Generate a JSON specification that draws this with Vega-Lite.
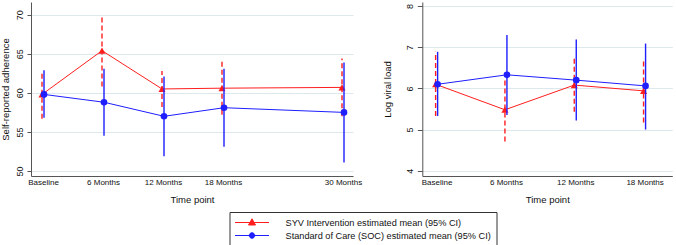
{
  "$schema": "https://vega.github.io/schema/vega-lite/v6.json",
  "background": "white",
  "padding": {"left": 0, "top": 2, "right": 0, "bottom": 2},
  "bounds": "flush",
  "spacing": 69.3,
  "config": {
    "view": {"stroke": null},
    "font": "Liberation Sans",
    "axis": {
      "domainColor": "#555555",
      "domainWidth": 1,
      "tickColor": "#555555",
      "labelColor": "#111111",
      "titleColor": "#111111",
      "labelFont": "Liberation Sans",
      "titleFont": "Liberation Sans",
      "titleFontWeight": "normal",
      "gridColor": "#dde8ec",
      "gridWidth": 1
    },
    "legend": {
      "labelFont": "Liberation Sans"
    }
  },
  "datasets": {
    "adherence": [
      {"series": "SYV Intervention estimated mean (95% CI)", "month": 0, "mean": 59.8, "lo": 56.7, "hi": 62.7},
      {"series": "SYV Intervention estimated mean (95% CI)", "month": 6, "mean": 65.4, "lo": 60.8, "hi": 70.0},
      {"series": "SYV Intervention estimated mean (95% CI)", "month": 12, "mean": 60.5, "lo": 58.2, "hi": 62.8},
      {"series": "SYV Intervention estimated mean (95% CI)", "month": 18, "mean": 60.6, "lo": 57.2, "hi": 64.1},
      {"series": "SYV Intervention estimated mean (95% CI)", "month": 30, "mean": 60.7, "lo": 57.0, "hi": 64.4},
      {"series": "Standard of Care (SOC) estimated mean (95% CI)", "month": 0, "mean": 59.8, "lo": 56.8, "hi": 62.9},
      {"series": "Standard of Care (SOC) estimated mean (95% CI)", "month": 6, "mean": 58.8, "lo": 54.5, "hi": 63.1},
      {"series": "Standard of Care (SOC) estimated mean (95% CI)", "month": 12, "mean": 57.0, "lo": 51.9, "hi": 62.1},
      {"series": "Standard of Care (SOC) estimated mean (95% CI)", "month": 18, "mean": 58.1, "lo": 53.1, "hi": 63.1},
      {"series": "Standard of Care (SOC) estimated mean (95% CI)", "month": 30, "mean": 57.5, "lo": 51.1, "hi": 63.9}
    ],
    "viral": [
      {"series": "SYV Intervention estimated mean (95% CI)", "month": 0, "mean": 6.10, "lo": 5.33, "hi": 6.89},
      {"series": "SYV Intervention estimated mean (95% CI)", "month": 6, "mean": 5.48, "lo": 4.71, "hi": 6.25},
      {"series": "SYV Intervention estimated mean (95% CI)", "month": 12, "mean": 6.08, "lo": 5.43, "hi": 6.73},
      {"series": "SYV Intervention estimated mean (95% CI)", "month": 18, "mean": 5.94, "lo": 5.17, "hi": 6.71},
      {"series": "Standard of Care (SOC) estimated mean (95% CI)", "month": 0, "mean": 6.10, "lo": 5.33, "hi": 6.89},
      {"series": "Standard of Care (SOC) estimated mean (95% CI)", "month": 6, "mean": 6.33, "lo": 5.35, "hi": 7.30},
      {"series": "Standard of Care (SOC) estimated mean (95% CI)", "month": 12, "mean": 6.20, "lo": 5.22, "hi": 7.19},
      {"series": "Standard of Care (SOC) estimated mean (95% CI)", "month": 18, "mean": 6.06, "lo": 5.00, "hi": 7.09}
    ]
  },
  "hconcat": [
    {
      "width": 322,
      "height": 174,
      "data": {"name": "adherence"},
      "encoding": {
        "x": {
          "field": "month", "type": "quantitative",
          "scale": {"domain": [-1.2, 31.0], "nice": false, "zero": false},
          "axis": {
            "title": "Time point", "titleFontSize": 9.5, "titlePadding": 8,
            "values": [0, 6, 12, 18, 30],
            "labelExpr": "datum.value == 0 ? 'Baseline' : datum.value + ' Months'",
            "labelFontSize": 8, "labelPadding": 2, "ticks": false, "grid": false,
            "labelFlush": false, "labelOverlap": false
          }
        },
        "color": {
          "field": "series", "type": "nominal",
          "scale": {
            "domain": ["SYV Intervention estimated mean (95% CI)", "Standard of Care (SOC) estimated mean (95% CI)"],
            "range": ["#ff1e1e", "#1e1eff"]
          },
          "legend": {
            "title": null,
            "orient": "none",
            "legendX": 198.5,
            "legendY": 210,
            "direction": "vertical",
            "padding": 5,
            "strokeColor": "#333333",
            "fillColor": "white",
            "labelFontSize": 9.2,
            "labelLimit": 400,
            "labelColor": "#111111",
            "symbolSize": 100,
            "symbolOffset": 12,
            "labelOffset": 28,
            "rowPadding": 2,
            "encode": {
              "symbols": {
                "update": {
                  "shape": {"signal": "indexof(datum.value, 'SYV') == 0 ? 'M-3.4,0H3.4M0,-0.75L0.7,0.5L-0.7,0.5Z' : 'M-3.4,0H3.4M-0.55,0A0.55,0.55,0,1,0,0.55,0A0.55,0.55,0,1,0,-0.55,0Z'"},
                  "fill": {"scale": "color", "field": "value"},
                  "stroke": {"scale": "color", "field": "value"},
                  "strokeWidth": {"value": 1},
                  "opacity": {"value": 1},
                  "fillOpacity": {"value": 1}
                }
              }
            }
          }
        }
      },
      "layer": [
        {
          "transform": [{"filter": "indexof(datum.series, 'SYV') == 0"}],
          "mark": {"type": "rule", "strokeWidth": 1.4, "strokeDash": [5, 3], "xOffset": -1},
          "encoding": {
            "y": {"field": "lo", "type": "quantitative",
              "scale": {"domain": [49.36, 71.63], "nice": false, "zero": false},
              "axis": {"title": "Self-reported adherence", "titleFontSize": 9.5, "titlePadding": 5,
                "values": [50, 55, 60, 65, 70], "labelAngle": 270, "labelFontSize": 9,
                "labelPadding": 3, "tickSize": 4, "grid": true}},
            "y2": {"field": "hi"}
          }
        },
        {
          "transform": [{"filter": "indexof(datum.series, 'SYV') == 0"}],
          "mark": {"type": "line", "strokeWidth": 1, "xOffset": -1},
          "encoding": {"y": {"field": "mean", "type": "quantitative"}}
        },
        {
          "transform": [{"filter": "indexof(datum.series, 'SYV') == 0"}],
          "mark": {"type": "point", "shape": "triangle-up", "filled": true, "size": 50, "opacity": 1, "xOffset": -1},
          "encoding": {"y": {"field": "mean", "type": "quantitative"}}
        },
        {
          "transform": [{"filter": "indexof(datum.series, 'Standard') == 0"}],
          "mark": {"type": "rule", "strokeWidth": 1.4, "xOffset": 1},
          "encoding": {
            "y": {"field": "lo", "type": "quantitative"},
            "y2": {"field": "hi"}
          }
        },
        {
          "transform": [{"filter": "indexof(datum.series, 'Standard') == 0"}],
          "mark": {"type": "line", "strokeWidth": 1, "xOffset": 1},
          "encoding": {"y": {"field": "mean", "type": "quantitative"}}
        },
        {
          "transform": [{"filter": "indexof(datum.series, 'Standard') == 0"}],
          "mark": {"type": "point", "shape": "circle", "filled": true, "size": 44, "opacity": 1, "xOffset": 1},
          "encoding": {"y": {"field": "mean", "type": "quantitative"}}
        }
      ]
    },
    {
      "width": 250,
      "height": 174,
      "data": {"name": "viral"},
      "encoding": {
        "x": {
          "field": "month", "type": "quantitative",
          "scale": {"domain": [-1.24, 20.4], "nice": false, "zero": false},
          "axis": {
            "title": "Time point", "titleFontSize": 9.5, "titlePadding": 8,
            "values": [0, 6, 12, 18],
            "labelExpr": "datum.value == 0 ? 'Baseline' : datum.value + ' Months'",
            "labelFontSize": 8, "labelPadding": 2, "ticks": false, "grid": false,
            "labelFlush": false, "labelOverlap": false
          }
        },
        "color": {
          "field": "series", "type": "nominal",
          "scale": {
            "domain": ["SYV Intervention estimated mean (95% CI)", "Standard of Care (SOC) estimated mean (95% CI)"],
            "range": ["#ff1e1e", "#1e1eff"]
          }
        }
      },
      "layer": [
        {
          "transform": [{"filter": "indexof(datum.series, 'SYV') == 0"}],
          "mark": {"type": "rule", "strokeWidth": 1.4, "strokeDash": [5, 3], "xOffset": -1},
          "encoding": {
            "y": {"field": "lo", "type": "quantitative",
              "scale": {"domain": [3.87, 8.10], "nice": false, "zero": false},
              "axis": {"title": "Log viral load", "titleFontSize": 9.5, "titlePadding": 13,
                "values": [4, 5, 6, 7, 8], "labelAngle": 270, "labelFontSize": 9,
                "labelPadding": 3, "tickSize": 5, "grid": true}},
            "y2": {"field": "hi"}
          }
        },
        {
          "transform": [{"filter": "indexof(datum.series, 'SYV') == 0"}],
          "mark": {"type": "line", "strokeWidth": 1, "xOffset": -1},
          "encoding": {"y": {"field": "mean", "type": "quantitative"}}
        },
        {
          "transform": [{"filter": "indexof(datum.series, 'SYV') == 0"}],
          "mark": {"type": "point", "shape": "triangle-up", "filled": true, "size": 50, "opacity": 1, "xOffset": -1},
          "encoding": {"y": {"field": "mean", "type": "quantitative"}}
        },
        {
          "transform": [{"filter": "indexof(datum.series, 'Standard') == 0"}],
          "mark": {"type": "rule", "strokeWidth": 1.4, "xOffset": 1},
          "encoding": {
            "y": {"field": "lo", "type": "quantitative"},
            "y2": {"field": "hi"}
          }
        },
        {
          "transform": [{"filter": "indexof(datum.series, 'Standard') == 0"}],
          "mark": {"type": "line", "strokeWidth": 1, "xOffset": 1},
          "encoding": {"y": {"field": "mean", "type": "quantitative"}}
        },
        {
          "transform": [{"filter": "indexof(datum.series, 'Standard') == 0"}],
          "mark": {"type": "point", "shape": "circle", "filled": true, "size": 44, "opacity": 1, "xOffset": 1},
          "encoding": {"y": {"field": "mean", "type": "quantitative"}}
        }
      ]
    }
  ]
}
